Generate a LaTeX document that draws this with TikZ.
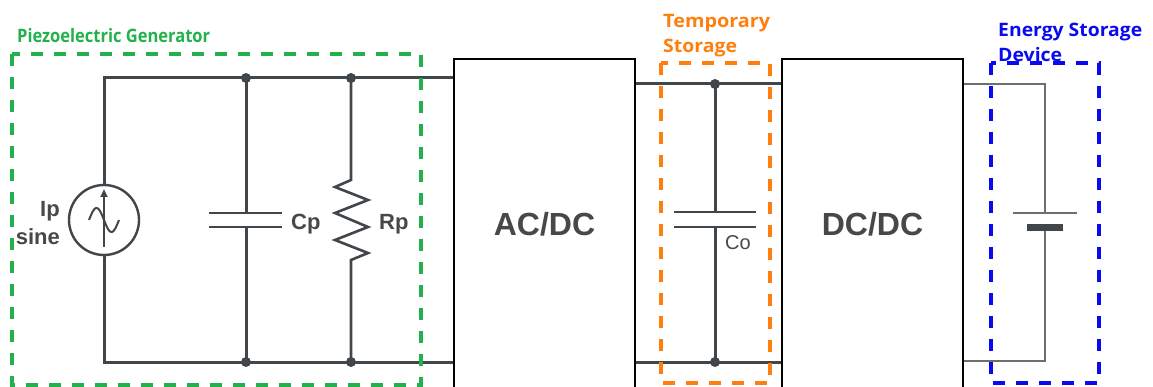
\documentclass[tikz,border=0pt]{standalone}
\usepackage{fontspec}
\setmainfont{Liberation Sans}
\newfontfamily\labfont{Open Sans}
\usetikzlibrary{arrows.meta}
\definecolor{wire}{HTML}{41464B}
\definecolor{wiretwo}{HTML}{6E6E6E}
\definecolor{txt}{HTML}{484848}
\definecolor{grn}{HTML}{22B14C}
\definecolor{org}{HTML}{FF7F0E}
\definecolor{blu}{HTML}{0A0AF0}
\tikzset{
 wire/.style={draw=wire, line width=3pt},
 wiresoft/.style={draw=wiretwo, line width=2.8pt},
 jdot/.style={circle, fill=wire, inner sep=0pt, minimum size=10pt},
 blk/.style={draw=black, line width=1.5pt, minimum width=181pt, minimum height=330pt, inner sep=0pt, font=\fontsize{32}{36}\selectfont\bfseries, text=txt},
 lbl/.style={font=\fontsize{22}{24}\selectfont\bfseries, text=txt, inner sep=0pt},
 grp/.style={line width=4.5pt, dash pattern=on 12pt off 11pt},
 grplbl/.style={font=\labfont\bfseries\fontsize{18.5}{20}\selectfont, inner sep=0pt, anchor=base west}
}
\begin{document}
\begin{tikzpicture}[x=1pt,y=-1pt]
\useasboundingbox (0,0) rectangle (1153,387);
\clip (0,0) rectangle (1153,387);
% blocks
\node[blk] (acdc) at (544.5,224) {AC/DC};
\node[blk] (dcdc) at (872.5,224) {DC/DC};
% source
\node[circle, draw=wire, line width=2.4pt, minimum size=70pt, inner sep=0pt] (src) at (104,220) {};
\draw[draw=wire, line width=2pt] plot[domain=-15:15, samples=40] ({104+\x},{220+12*sin(12*\x)});
\coordinate (arrlo) at (104,247);
\coordinate (arrhi) at (104,189);
\draw[draw=wire, line width=2.2pt, -{Triangle[length=8pt,width=7pt]}] (arrlo) -- (arrhi);
% left circuit junctions
\coordinate (tl) at (104,78);
\coordinate (bl) at (104,362);
\coordinate (cpt) at (246,78);
\coordinate (cpb) at (246,362);
\coordinate (rpt) at (351,78);
\coordinate (rpb) at (351,362);
\coordinate (cpa) at (246,213);
\coordinate (cpc) at (246,227);
\draw[wire] (src.north) -- (tl) -- (tl -| acdc.west);
\draw[wire] (src.south) -- (bl) -- (bl -| acdc.west);
\draw[wire] (cpt) -- (cpa);
\draw[wire] (cpc) -- (cpb);
\draw[wire, line width=2.8pt] ([xshift=-37pt]cpa) -- ([xshift=36pt]cpa);
\draw[wire, line width=2.8pt] ([xshift=-37pt]cpc) -- ([xshift=36pt]cpc);
\draw[wire, line width=2.6pt] (rpt) -- (351,180) -- (335,187) -- (368,200) -- (335,213) -- (368,227) -- (335,240) -- (368,253) -- (351,260) -- (rpb);
\node[jdot] (d1) at (cpt) {};
\node[jdot] (d2) at (cpb) {};
\node[jdot] (d3) at (rpt) {};
\node[jdot] (d4) at (rpb) {};
\node[lbl, anchor=base east] (iplbl) at (60,217) {Ip};
\node[lbl, anchor=base east] (sinelbl) at (60,245) {sine};
\node[lbl, anchor=base west] (cplbl) at (291,230) {Cp};
\node[lbl, anchor=base west] (rplbl) at (379,230) {Rp};
% temporary storage
\coordinate (ct) at (715,84);
\coordinate (cb) at (715,362);
\coordinate (coa) at (715,212);
\coordinate (coc) at (715,227);
\draw[wire] (acdc.east |- ct) -- (dcdc.west |- ct);
\draw[wire] (acdc.east |- cb) -- (dcdc.west |- cb);
\draw[wire] (ct) -- (coa);
\draw[wire] (coc) -- (cb);
\draw[wire, line width=2.8pt] ([xshift=-41pt]coa) -- ([xshift=41pt]coa);
\draw[wire, line width=2.8pt] ([xshift=-41pt]coc) -- ([xshift=41pt]coc);
\node[jdot] (d5) at (ct) {};
\node[jdot] (d6) at (cb) {};
\node[font=\fontsize{20}{22}\selectfont, text=txt, inner sep=0pt, anchor=base west] (colbl) at (725,250) {Co};
% energy storage
\coordinate (bt) at (1045,84);
\coordinate (bb) at (1045,361);
\coordinate (bpa) at (1045,213);
\coordinate (bpc) at (1045,228);
\draw[wiresoft] (dcdc.east |- bt) -- (bt) -- (bpa);
\draw[wiresoft] (bpc) -- (bb) -- (dcdc.east |- bb);
\draw[wiresoft] ([xshift=-32pt]bpa) -- ([xshift=32pt]bpa);
\draw[draw=wire, line width=7pt] ([xshift=-18pt]bpc) -- ([xshift=18pt]bpc);
% group frames
\draw[grp, draw=grn] (12,54) rectangle (421,385);
\draw[grp, draw=org] (661,63) rectangle (770,383);
\draw[grp, draw=blu] (991,63) rectangle (1099,383);
\node[grplbl, text=grn] (glbl) at (17,43) {\resizebox{193pt}{\height}{Piezoelectric Generator}};
\node[grplbl, text=org] (olbla) at (663,28) {\resizebox{107pt}{\height}{Temporary}};
\node[grplbl, text=org] (olblb) at (663,53) {\resizebox{74pt}{\height}{Storage}};
\node[grplbl, text=blu] (blbla) at (998,37) {\resizebox{144pt}{\height}{Energy Storage}};
\node[grplbl, text=blu] (blblb) at (998,62) {\resizebox{64pt}{\height}{Device}};
\end{tikzpicture}
\end{document}
